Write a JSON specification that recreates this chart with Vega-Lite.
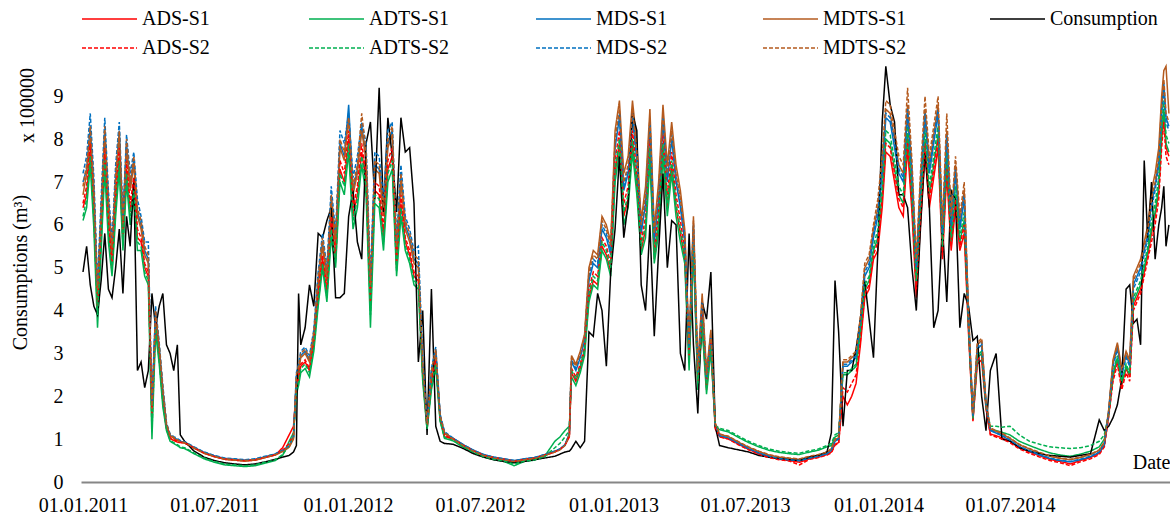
{
"$schema":"https://vega.github.io/schema/vega-lite/v6.json",
"width":1089,"height":420,
"autosize":{"type":"none"},
"padding":{"left":81,"top":62,"right":0,"bottom":33},
"background":"white",
"datasets":{
"series":[{"k":"a1","name":"ADS-S1"},{"k":"t1","name":"ADTS-S1"},{"k":"m1","name":"MDS-S1"},{"k":"d1","name":"MDTS-S1"},{"k":"c","name":"Consumption"},{"k":"a2","name":"ADS-S2"},{"k":"t2","name":"ADTS-S2"},{"k":"m2","name":"MDS-S2"},{"k":"d2","name":"MDTS-S2"}],
"consumption":[
{"date":"2011-01-01","a1":6.4,"t1":6.1,"m1":7.0,"d1":6.7,"c":4.9,"a2":6.5,"t2":6.2,"m2":7.2,"d2":6.9},
{"date":"2011-01-06","a1":6.7,"t1":6.4,"m1":7.3,"d1":7.2,"c":5.5,"a2":6.9,"t2":6.6,"m2":7.6,"d2":7.4},
{"date":"2011-01-11","a1":7.7,"t1":7.4,"m1":8.3,"d1":8.0,"c":4.6,"a2":7.9,"t2":7.6,"m2":8.6,"d2":8.3},
{"date":"2011-01-16","a1":6.2,"t1":5.9,"m1":6.8,"d1":6.7,"c":4.1,"a2":6.4,"t2":6.1,"m2":7.1,"d2":6.9},
{"date":"2011-01-21","a1":4.0,"t1":3.6,"m1":4.4,"d1":4.1,"c":3.9,"a2":4.1,"t2":3.9,"m2":4.6,"d2":4.5},
{"date":"2011-01-26","a1":5.7,"t1":5.4,"m1":6.3,"d1":6.2,"c":4.7,"a2":5.9,"t2":5.6,"m2":6.6,"d2":6.4},
{"date":"2011-01-31","a1":7.6,"t1":7.3,"m1":8.2,"d1":8.1,"c":5.8,"a2":7.8,"t2":7.5,"m2":8.5,"d2":8.3},
{"date":"2011-02-05","a1":5.9,"t1":5.6,"m1":6.5,"d1":6.4,"c":4.5,"a2":6.1,"t2":5.8,"m2":6.8,"d2":6.6},
{"date":"2011-02-10","a1":5.0,"t1":4.8,"m1":5.4,"d1":5.3,"c":4.3,"a2":5.1,"t2":4.9,"m2":5.6,"d2":5.5},
{"date":"2011-02-15","a1":6.5,"t1":6.2,"m1":7.1,"d1":7.0,"c":5.0,"a2":6.7,"t2":6.4,"m2":7.4,"d2":7.2},
{"date":"2011-02-20","a1":7.6,"t1":7.3,"m1":8.2,"d1":8.1,"c":5.9,"a2":7.8,"t2":7.5,"m2":8.4,"d2":8.2},
{"date":"2011-02-25","a1":5.6,"t1":5.4,"m1":6.0,"d1":5.9,"c":4.4,"a2":5.7,"t2":5.5,"m2":6.2,"d2":6.1},
{"date":"2011-03-02","a1":7.3,"t1":7.0,"m1":7.9,"d1":7.8,"c":6.2,"a2":7.5,"t2":7.2,"m2":8.1,"d2":8.0},
{"date":"2011-03-07","a1":6.3,"t1":6.0,"m1":6.9,"d1":6.8,"c":5.5,"a2":6.5,"t2":6.2,"m2":7.2,"d2":7.0},
{"date":"2011-03-12","a1":6.9,"t1":6.6,"m1":7.5,"d1":7.4,"c":7.1,"a2":7.1,"t2":6.8,"m2":7.7,"d2":7.6},
{"date":"2011-03-17","a1":5.7,"t1":5.4,"m1":6.3,"d1":6.2,"c":2.6,"a2":5.9,"t2":5.6,"m2":6.6,"d2":6.4},
{"date":"2011-03-22","a1":5.6,"t1":5.4,"m1":6.0,"d1":5.9,"c":2.8,"a2":5.7,"t2":5.5,"m2":6.2,"d2":6.1},
{"date":"2011-03-27","a1":5.0,"t1":4.8,"m1":5.4,"d1":5.3,"c":2.2,"a2":5.1,"t2":4.9,"m2":5.6,"d2":5.5},
{"date":"2011-04-01","a1":4.8,"t1":4.6,"m1":5.2,"d1":5.1,"c":2.6,"a2":4.9,"t2":4.7,"m2":5.6,"d2":5.3},
{"date":"2011-04-06","a1":1.55,"t1":1.0,"m1":1.7,"d1":1.65,"c":4.4,"a2":1.6,"t2":1.2,"m2":1.8,"d2":1.7},
{"date":"2011-04-11","a1":3.7,"t1":3.5,"m1":3.95,"d1":3.9,"c":3.6,"a2":3.75,"t2":3.65,"m2":4.1,"d2":4.0},
{"date":"2011-04-16","a1":2.9,"t1":2.75,"m1":3.15,"d1":3.1,"c":4.1,"a2":2.95,"t2":2.85,"m2":3.25,"d2":3.2},
{"date":"2011-04-21","a1":1.9,"t1":1.75,"m1":2.15,"d1":2.1,"c":4.4,"a2":1.95,"t2":1.85,"m2":2.25,"d2":2.2},
{"date":"2011-04-26","a1":1.26,"t1":1.2,"m1":1.34,"d1":1.33,"c":3.2,"a2":1.28,"t2":1.24,"m2":1.38,"d2":1.36},
{"date":"2011-05-01","a1":1.01,"t1":0.95,"m1":1.09,"d1":1.08,"c":3.0,"a2":1.03,"t2":0.97,"m2":1.12,"d2":1.1},
{"date":"2011-05-06","a1":0.97,"t1":0.9,"m1":1.04,"d1":1.02,"c":2.6,"a2":0.99,"t2":0.92,"m2":1.06,"d2":1.04},
{"date":"2011-05-11","a1":0.93,"t1":0.85,"m1":0.99,"d1":0.97,"c":3.2,"a2":0.95,"t2":0.87,"m2":1.01,"d2":0.99},
{"date":"2011-05-15","a1":0.92,"t1":0.8,"m1":0.95,"d1":0.93,"c":1.1,"a2":0.93,"t2":0.82,"m2":0.97,"d2":0.94},
{"date":"2011-05-21","a1":0.91,"t1":0.78,"m1":0.93,"d1":0.91,"c":0.95,"a2":0.92,"t2":0.8,"m2":0.94,"d2":0.92},
{"date":"2011-06-03","a1":0.79,"t1":0.66,"m1":0.81,"d1":0.79,"c":0.72,"a2":0.8,"t2":0.68,"m2":0.82,"d2":0.8},
{"date":"2011-06-17","a1":0.67,"t1":0.54,"m1":0.69,"d1":0.67,"c":0.58,"a2":0.68,"t2":0.56,"m2":0.7,"d2":0.68},
{"date":"2011-07-01","a1":0.59,"t1":0.46,"m1":0.61,"d1":0.59,"c":0.5,"a2":0.6,"t2":0.48,"m2":0.62,"d2":0.6},
{"date":"2011-07-15","a1":0.53,"t1":0.4,"m1":0.55,"d1":0.53,"c":0.45,"a2":0.54,"t2":0.42,"m2":0.56,"d2":0.54},
{"date":"2011-07-29","a1":0.51,"t1":0.38,"m1":0.53,"d1":0.51,"c":0.42,"a2":0.52,"t2":0.4,"m2":0.54,"d2":0.52},
{"date":"2011-08-12","a1":0.49,"t1":0.36,"m1":0.51,"d1":0.49,"c":0.4,"a2":0.5,"t2":0.38,"m2":0.52,"d2":0.5},
{"date":"2011-08-26","a1":0.51,"t1":0.38,"m1":0.53,"d1":0.51,"c":0.42,"a2":0.52,"t2":0.4,"m2":0.54,"d2":0.52},
{"date":"2011-09-09","a1":0.57,"t1":0.44,"m1":0.59,"d1":0.57,"c":0.47,"a2":0.58,"t2":0.46,"m2":0.6,"d2":0.58},
{"date":"2011-09-23","a1":0.63,"t1":0.5,"m1":0.65,"d1":0.63,"c":0.53,"a2":0.64,"t2":0.52,"m2":0.66,"d2":0.64},
{"date":"2011-10-03","a1":0.8,"t1":0.62,"m1":0.73,"d1":0.71,"c":0.58,"a2":0.74,"t2":0.64,"m2":0.74,"d2":0.72},
{"date":"2011-10-12","a1":1.1,"t1":0.95,"m1":0.83,"d1":0.81,"c":0.62,"a2":0.9,"t2":0.85,"m2":0.84,"d2":0.82},
{"date":"2011-10-18","a1":1.3,"t1":1.15,"m1":1.05,"d1":1.0,"c":0.7,"a2":1.1,"t2":1.05,"m2":1.06,"d2":1.03},
{"date":"2011-10-22","a1":2.2,"t1":2.05,"m1":2.45,"d1":2.4,"c":0.85,"a2":2.25,"t2":2.15,"m2":2.55,"d2":2.5},
{"date":"2011-10-25","a1":2.4,"t1":2.25,"m1":2.65,"d1":2.6,"c":4.4,"a2":2.45,"t2":2.35,"m2":2.75,"d2":2.7},
{"date":"2011-10-28","a1":2.7,"t1":2.55,"m1":2.95,"d1":2.9,"c":3.2,"a2":2.75,"t2":2.65,"m2":3.05,"d2":3.0},
{"date":"2011-11-03","a1":2.8,"t1":2.65,"m1":3.05,"d1":3.0,"c":3.6,"a2":2.85,"t2":2.75,"m2":3.15,"d2":3.1},
{"date":"2011-11-09","a1":2.6,"t1":2.45,"m1":2.85,"d1":2.8,"c":4.6,"a2":2.65,"t2":2.55,"m2":2.95,"d2":2.9},
{"date":"2011-11-15","a1":3.2,"t1":3.05,"m1":3.45,"d1":3.4,"c":4.1,"a2":3.25,"t2":3.15,"m2":3.55,"d2":3.5},
{"date":"2011-11-21","a1":4.3,"t1":4.1,"m1":4.7,"d1":4.6,"c":5.8,"a2":4.4,"t2":4.2,"m2":4.9,"d2":4.8},
{"date":"2011-11-27","a1":5.2,"t1":5.0,"m1":5.6,"d1":5.5,"c":5.7,"a2":5.3,"t2":5.1,"m2":5.8,"d2":5.7},
{"date":"2011-12-03","a1":4.4,"t1":4.2,"m1":4.8,"d1":4.7,"c":6.1,"a2":4.5,"t2":4.3,"m2":5.0,"d2":4.9},
{"date":"2011-12-09","a1":6.0,"t1":5.7,"m1":6.6,"d1":6.5,"c":6.4,"a2":6.2,"t2":5.9,"m2":6.9,"d2":6.7},
{"date":"2011-12-15","a1":5.2,"t1":5.0,"m1":5.6,"d1":5.5,"c":4.3,"a2":5.3,"t2":5.1,"m2":5.8,"d2":5.7},
{"date":"2011-12-21","a1":7.3,"t1":7.0,"m1":7.9,"d1":7.8,"c":4.3,"a2":7.5,"t2":7.2,"m2":8.2,"d2":8.0},
{"date":"2011-12-27","a1":7.0,"t1":6.7,"m1":7.6,"d1":7.5,"c":4.4,"a2":7.2,"t2":6.9,"m2":7.9,"d2":7.7},
{"date":"2012-01-02","a1":8.0,"t1":7.7,"m1":8.8,"d1":8.5,"c":6.2,"a2":8.2,"t2":7.9,"m2":8.6,"d2":8.5},
{"date":"2012-01-08","a1":6.2,"t1":5.9,"m1":6.8,"d1":6.7,"c":6.8,"a2":6.4,"t2":6.1,"m2":7.1,"d2":6.9},
{"date":"2012-01-14","a1":6.7,"t1":6.4,"m1":7.3,"d1":7.2,"c":5.6,"a2":6.9,"t2":6.6,"m2":7.6,"d2":7.4},
{"date":"2012-01-20","a1":7.7,"t1":7.4,"m1":8.3,"d1":8.2,"c":5.2,"a2":7.9,"t2":7.6,"m2":8.4,"d2":8.6},
{"date":"2012-01-26","a1":7.0,"t1":6.7,"m1":7.6,"d1":7.5,"c":7.9,"a2":7.2,"t2":6.9,"m2":7.9,"d2":7.7},
{"date":"2012-02-01","a1":4.1,"t1":3.6,"m1":4.5,"d1":4.4,"c":8.4,"a2":4.2,"t2":3.9,"m2":4.7,"d2":4.6},
{"date":"2012-02-07","a1":6.8,"t1":6.5,"m1":7.4,"d1":7.3,"c":6.6,"a2":7.0,"t2":6.7,"m2":7.7,"d2":7.5},
{"date":"2012-02-13","a1":6.7,"t1":6.4,"m1":7.3,"d1":7.2,"c":9.2,"a2":6.9,"t2":6.6,"m2":7.6,"d2":7.4},
{"date":"2012-02-19","a1":5.7,"t1":5.4,"m1":6.3,"d1":6.2,"c":6.3,"a2":5.9,"t2":5.6,"m2":6.6,"d2":6.4},
{"date":"2012-02-25","a1":7.3,"t1":7.0,"m1":7.9,"d1":7.8,"c":8.5,"a2":7.5,"t2":7.2,"m2":8.2,"d2":8.0},
{"date":"2012-03-02","a1":7.6,"t1":7.3,"m1":8.2,"d1":8.1,"c":7.6,"a2":7.8,"t2":7.5,"m2":8.4,"d2":8.3},
{"date":"2012-03-08","a1":5.0,"t1":4.8,"m1":5.4,"d1":5.3,"c":6.3,"a2":5.1,"t2":4.9,"m2":5.6,"d2":5.5},
{"date":"2012-03-14","a1":6.5,"t1":6.2,"m1":7.1,"d1":7.0,"c":8.5,"a2":6.7,"t2":6.4,"m2":7.4,"d2":7.2},
{"date":"2012-03-20","a1":5.6,"t1":5.4,"m1":6.0,"d1":5.9,"c":7.7,"a2":5.7,"t2":5.5,"m2":6.2,"d2":6.1},
{"date":"2012-03-26","a1":5.3,"t1":5.1,"m1":5.7,"d1":5.6,"c":7.8,"a2":5.4,"t2":5.2,"m2":5.9,"d2":5.8},
{"date":"2012-04-01","a1":4.8,"t1":4.6,"m1":5.2,"d1":5.1,"c":6.5,"a2":4.9,"t2":4.7,"m2":5.4,"d2":5.3},
{"date":"2012-04-07","a1":4.7,"t1":4.5,"m1":5.1,"d1":5.0,"c":2.8,"a2":4.8,"t2":4.6,"m2":5.5,"d2":5.2},
{"date":"2012-04-13","a1":2.5,"t1":2.35,"m1":2.75,"d1":2.7,"c":4.0,"a2":2.55,"t2":2.45,"m2":2.85,"d2":2.8},
{"date":"2012-04-19","a1":1.26,"t1":1.22,"m1":1.34,"d1":1.33,"c":1.1,"a2":1.28,"t2":1.24,"m2":1.38,"d2":1.36},
{"date":"2012-04-25","a1":2.3,"t1":2.15,"m1":2.55,"d1":2.5,"c":4.5,"a2":2.35,"t2":2.25,"m2":2.65,"d2":2.6},
{"date":"2012-05-01","a1":2.8,"t1":2.65,"m1":3.05,"d1":3.0,"c":1.3,"a2":2.85,"t2":2.75,"m2":3.15,"d2":3.1},
{"date":"2012-05-07","a1":1.46,"t1":1.42,"m1":1.54,"d1":1.53,"c":0.95,"a2":1.48,"t2":1.44,"m2":1.58,"d2":1.56},
{"date":"2012-05-13","a1":1.06,"t1":1.02,"m1":1.14,"d1":1.13,"c":0.9,"a2":1.08,"t2":1.04,"m2":1.18,"d2":1.16},
{"date":"2012-05-25","a1":1.0,"t1":0.96,"m1":1.02,"d1":1.01,"c":0.88,"a2":1.01,"t2":0.97,"m2":1.02,"d2":1.0},
{"date":"2012-06-08","a1":0.85,"t1":0.81,"m1":0.87,"d1":0.86,"c":0.78,"a2":0.86,"t2":0.82,"m2":0.87,"d2":0.85},
{"date":"2012-06-22","a1":0.72,"t1":0.68,"m1":0.74,"d1":0.73,"c":0.66,"a2":0.73,"t2":0.69,"m2":0.74,"d2":0.72},
{"date":"2012-07-06","a1":0.62,"t1":0.58,"m1":0.64,"d1":0.63,"c":0.58,"a2":0.63,"t2":0.59,"m2":0.64,"d2":0.62},
{"date":"2012-07-20","a1":0.56,"t1":0.52,"m1":0.58,"d1":0.57,"c":0.52,"a2":0.57,"t2":0.53,"m2":0.58,"d2":0.56},
{"date":"2012-08-03","a1":0.52,"t1":0.48,"m1":0.54,"d1":0.53,"c":0.48,"a2":0.53,"t2":0.49,"m2":0.54,"d2":0.52},
{"date":"2012-08-17","a1":0.48,"t1":0.38,"m1":0.5,"d1":0.49,"c":0.45,"a2":0.49,"t2":0.42,"m2":0.5,"d2":0.48},
{"date":"2012-08-31","a1":0.52,"t1":0.48,"m1":0.54,"d1":0.53,"c":0.48,"a2":0.53,"t2":0.49,"m2":0.54,"d2":0.52},
{"date":"2012-09-14","a1":0.55,"t1":0.51,"m1":0.57,"d1":0.56,"c":0.52,"a2":0.56,"t2":0.52,"m2":0.57,"d2":0.55},
{"date":"2012-09-28","a1":0.62,"t1":0.6,"m1":0.64,"d1":0.63,"c":0.56,"a2":0.63,"t2":0.59,"m2":0.64,"d2":0.62},
{"date":"2012-10-12","a1":0.7,"t1":0.95,"m1":0.72,"d1":0.71,"c":0.6,"a2":0.71,"t2":0.8,"m2":0.72,"d2":0.7},
{"date":"2012-10-19","a1":0.76,"t1":1.05,"m1":0.77,"d1":0.76,"c":0.65,"a2":0.76,"t2":0.9,"m2":0.77,"d2":0.75},
{"date":"2012-10-26","a1":0.86,"t1":1.2,"m1":0.87,"d1":0.86,"c":0.7,"a2":0.86,"t2":1.05,"m2":0.87,"d2":0.85},
{"date":"2012-11-01","a1":1.05,"t1":1.3,"m1":1.12,"d1":1.1,"c":0.72,"a2":1.08,"t2":1.2,"m2":1.13,"d2":1.1},
{"date":"2012-11-04","a1":2.55,"t1":2.45,"m1":2.8,"d1":2.95,"c":0.78,"a2":2.65,"t2":2.6,"m2":2.85,"d2":2.9},
{"date":"2012-11-10","a1":2.35,"t1":2.25,"m1":2.6,"d1":2.75,"c":0.95,"a2":2.45,"t2":2.4,"m2":2.65,"d2":2.7},
{"date":"2012-11-16","a1":2.65,"t1":2.55,"m1":2.9,"d1":3.05,"c":0.8,"a2":2.75,"t2":2.7,"m2":2.95,"d2":3.0},
{"date":"2012-11-22","a1":3.05,"t1":2.95,"m1":3.3,"d1":3.45,"c":0.95,"a2":3.15,"t2":3.1,"m2":3.35,"d2":3.4},
{"date":"2012-11-28","a1":4.3,"t1":4.2,"m1":4.7,"d1":5.0,"c":3.5,"a2":4.5,"t2":4.4,"m2":4.8,"d2":4.9},
{"date":"2012-12-04","a1":4.7,"t1":4.6,"m1":5.1,"d1":5.4,"c":3.4,"a2":4.9,"t2":4.8,"m2":5.2,"d2":5.3},
{"date":"2012-12-10","a1":4.6,"t1":4.5,"m1":5.0,"d1":5.3,"c":4.4,"a2":4.8,"t2":4.7,"m2":5.1,"d2":5.2},
{"date":"2012-12-16","a1":5.5,"t1":5.4,"m1":5.9,"d1":6.2,"c":4.0,"a2":5.7,"t2":5.6,"m2":6.0,"d2":6.1},
{"date":"2012-12-22","a1":5.3,"t1":5.2,"m1":5.7,"d1":6.0,"c":2.7,"a2":5.5,"t2":5.4,"m2":5.8,"d2":5.9},
{"date":"2012-12-28","a1":4.9,"t1":4.8,"m1":5.3,"d1":5.6,"c":4.9,"a2":5.1,"t2":5.0,"m2":5.4,"d2":5.5},
{"date":"2013-01-03","a1":7.2,"t1":7.0,"m1":7.8,"d1":8.2,"c":5.9,"a2":7.5,"t2":7.3,"m2":7.9,"d2":8.0},
{"date":"2013-01-09","a1":7.9,"t1":7.7,"m1":8.5,"d1":8.9,"c":7.6,"a2":8.2,"t2":8.0,"m2":8.6,"d2":8.7},
{"date":"2013-01-15","a1":6.2,"t1":6.0,"m1":6.8,"d1":7.2,"c":5.7,"a2":6.5,"t2":6.3,"m2":6.9,"d2":7.0},
{"date":"2013-01-21","a1":6.6,"t1":6.4,"m1":7.2,"d1":7.6,"c":6.5,"a2":6.9,"t2":6.7,"m2":7.3,"d2":7.4},
{"date":"2013-01-27","a1":7.9,"t1":7.7,"m1":8.5,"d1":8.9,"c":8.6,"a2":8.2,"t2":8.0,"m2":8.6,"d2":8.7},
{"date":"2013-02-02","a1":6.9,"t1":6.7,"m1":7.5,"d1":7.9,"c":8.2,"a2":7.2,"t2":7.0,"m2":7.6,"d2":7.7},
{"date":"2013-02-08","a1":5.4,"t1":5.3,"m1":5.8,"d1":6.1,"c":4.6,"a2":5.6,"t2":5.5,"m2":5.9,"d2":6.0},
{"date":"2013-02-14","a1":5.9,"t1":5.7,"m1":6.5,"d1":6.9,"c":4.0,"a2":6.2,"t2":6.0,"m2":6.6,"d2":6.7},
{"date":"2013-02-20","a1":7.7,"t1":7.5,"m1":8.3,"d1":8.7,"c":6.0,"a2":8.0,"t2":7.8,"m2":8.4,"d2":8.5},
{"date":"2013-02-26","a1":5.2,"t1":5.1,"m1":5.6,"d1":5.9,"c":3.4,"a2":5.4,"t2":5.3,"m2":5.7,"d2":5.8},
{"date":"2013-03-04","a1":6.0,"t1":5.8,"m1":6.6,"d1":7.0,"c":5.4,"a2":6.3,"t2":6.1,"m2":6.7,"d2":6.8},
{"date":"2013-03-10","a1":7.8,"t1":7.6,"m1":8.4,"d1":8.8,"c":7.2,"a2":8.1,"t2":7.9,"m2":8.5,"d2":8.6},
{"date":"2013-03-16","a1":6.4,"t1":6.2,"m1":7.0,"d1":7.4,"c":5.0,"a2":6.7,"t2":6.5,"m2":7.1,"d2":7.2},
{"date":"2013-03-22","a1":7.4,"t1":7.2,"m1":8.0,"d1":8.4,"c":6.1,"a2":7.7,"t2":7.5,"m2":8.1,"d2":8.2},
{"date":"2013-03-28","a1":6.4,"t1":6.2,"m1":7.0,"d1":7.4,"c":6.0,"a2":6.7,"t2":6.5,"m2":7.1,"d2":7.2},
{"date":"2013-04-03","a1":5.8,"t1":5.6,"m1":6.4,"d1":6.8,"c":3.0,"a2":6.1,"t2":5.9,"m2":6.5,"d2":6.6},
{"date":"2013-04-09","a1":5.2,"t1":5.1,"m1":5.6,"d1":5.9,"c":2.6,"a2":5.4,"t2":5.3,"m2":5.7,"d2":5.8},
{"date":"2013-04-15","a1":2.85,"t1":2.6,"m1":3.1,"d1":3.25,"c":5.8,"a2":2.95,"t2":2.9,"m2":3.15,"d2":3.2},
{"date":"2013-04-21","a1":5.5,"t1":5.4,"m1":5.9,"d1":6.2,"c":3.2,"a2":5.7,"t2":5.6,"m2":6.0,"d2":6.1},
{"date":"2013-04-27","a1":2.25,"t1":2.15,"m1":2.5,"d1":2.65,"c":1.6,"a2":2.35,"t2":2.3,"m2":2.55,"d2":2.6},
{"date":"2013-05-03","a1":3.7,"t1":3.6,"m1":4.1,"d1":4.4,"c":4.2,"a2":3.9,"t2":3.8,"m2":4.2,"d2":4.3},
{"date":"2013-05-09","a1":2.15,"t1":2.05,"m1":2.4,"d1":2.55,"c":3.8,"a2":2.25,"t2":2.2,"m2":2.45,"d2":2.5},
{"date":"2013-05-15","a1":3.15,"t1":3.05,"m1":3.4,"d1":3.55,"c":4.9,"a2":3.25,"t2":3.2,"m2":3.45,"d2":3.5},
{"date":"2013-05-21","a1":1.24,"t1":1.3,"m1":1.33,"d1":1.38,"c":1.3,"a2":1.28,"t2":1.32,"m2":1.34,"d2":1.36},
{"date":"2013-05-27","a1":1.06,"t1":1.22,"m1":1.08,"d1":1.11,"c":0.85,"a2":1.05,"t2":1.25,"m2":1.08,"d2":1.12},
{"date":"2013-06-08","a1":1.01,"t1":1.17,"m1":1.03,"d1":1.06,"c":0.8,"a2":1.0,"t2":1.2,"m2":1.03,"d2":1.07},
{"date":"2013-06-22","a1":0.88,"t1":1.04,"m1":0.9,"d1":0.93,"c":0.75,"a2":0.87,"t2":1.07,"m2":0.9,"d2":0.94},
{"date":"2013-07-06","a1":0.76,"t1":0.92,"m1":0.78,"d1":0.81,"c":0.7,"a2":0.75,"t2":0.95,"m2":0.78,"d2":0.82},
{"date":"2013-07-20","a1":0.66,"t1":0.82,"m1":0.68,"d1":0.71,"c":0.62,"a2":0.65,"t2":0.85,"m2":0.68,"d2":0.72},
{"date":"2013-08-03","a1":0.58,"t1":0.74,"m1":0.6,"d1":0.63,"c":0.58,"a2":0.57,"t2":0.77,"m2":0.6,"d2":0.64},
{"date":"2013-08-17","a1":0.53,"t1":0.69,"m1":0.55,"d1":0.58,"c":0.55,"a2":0.52,"t2":0.72,"m2":0.55,"d2":0.59},
{"date":"2013-08-31","a1":0.5,"t1":0.66,"m1":0.52,"d1":0.55,"c":0.52,"a2":0.49,"t2":0.69,"m2":0.52,"d2":0.56},
{"date":"2013-09-14","a1":0.46,"t1":0.64,"m1":0.5,"d1":0.53,"c":0.5,"a2":0.4,"t2":0.67,"m2":0.5,"d2":0.54},
{"date":"2013-09-28","a1":0.54,"t1":0.7,"m1":0.56,"d1":0.59,"c":0.58,"a2":0.53,"t2":0.73,"m2":0.56,"d2":0.6},
{"date":"2013-10-10","a1":0.58,"t1":0.74,"m1":0.6,"d1":0.63,"c":0.62,"a2":0.57,"t2":0.77,"m2":0.6,"d2":0.64},
{"date":"2013-10-22","a1":0.64,"t1":0.82,"m1":0.66,"d1":0.69,"c":0.7,"a2":0.63,"t2":0.85,"m2":0.66,"d2":0.7},
{"date":"2013-10-28","a1":0.7,"t1":0.85,"m1":0.74,"d1":0.77,"c":1.15,"a2":0.68,"t2":0.9,"m2":0.75,"d2":0.78},
{"date":"2013-11-02","a1":0.88,"t1":1.05,"m1":0.95,"d1":0.98,"c":4.7,"a2":0.86,"t2":1.1,"m2":0.96,"d2":1.0},
{"date":"2013-11-07","a1":0.92,"t1":1.1,"m1":1.0,"d1":1.03,"c":3.5,"a2":0.9,"t2":1.15,"m2":1.01,"d2":1.06},
{"date":"2013-11-13","a1":2.0,"t1":2.5,"m1":2.7,"d1":2.8,"c":1.3,"a2":2.2,"t2":2.55,"m2":2.75,"d2":2.85},
{"date":"2013-11-19","a1":1.8,"t1":2.5,"m1":2.7,"d1":2.8,"c":2.6,"a2":2.1,"t2":2.55,"m2":2.75,"d2":2.85},
{"date":"2013-11-25","a1":2.0,"t1":2.6,"m1":2.8,"d1":2.9,"c":2.6,"a2":2.3,"t2":2.65,"m2":2.85,"d2":2.95},
{"date":"2013-12-01","a1":2.3,"t1":2.7,"m1":2.9,"d1":3.0,"c":3.1,"a2":2.5,"t2":2.75,"m2":2.95,"d2":3.05},
{"date":"2013-12-07","a1":3.2,"t1":3.5,"m1":3.7,"d1":3.8,"c":3.8,"a2":3.3,"t2":3.55,"m2":3.75,"d2":3.85},
{"date":"2013-12-13","a1":4.3,"t1":4.5,"m1":4.8,"d1":5.0,"c":4.7,"a2":4.4,"t2":4.6,"m2":4.9,"d2":5.1},
{"date":"2013-12-19","a1":4.5,"t1":4.7,"m1":5.0,"d1":5.2,"c":3.8,"a2":4.6,"t2":4.8,"m2":5.1,"d2":5.3},
{"date":"2013-12-25","a1":5.2,"t1":5.4,"m1":5.7,"d1":5.9,"c":2.9,"a2":5.3,"t2":5.5,"m2":5.8,"d2":6.0},
{"date":"2013-12-31","a1":5.4,"t1":5.7,"m1":6.2,"d1":6.4,"c":5.4,"a2":5.6,"t2":5.9,"m2":6.3,"d2":6.6},
{"date":"2014-01-06","a1":6.4,"t1":6.7,"m1":7.2,"d1":7.4,"c":8.4,"a2":6.6,"t2":6.9,"m2":7.3,"d2":7.6},
{"date":"2014-01-11","a1":7.7,"t1":8.0,"m1":8.5,"d1":8.7,"c":9.7,"a2":7.9,"t2":8.2,"m2":8.6,"d2":8.9},
{"date":"2014-01-17","a1":7.6,"t1":7.9,"m1":8.4,"d1":8.6,"c":8.8,"a2":7.8,"t2":8.1,"m2":8.5,"d2":8.8},
{"date":"2014-01-23","a1":7.0,"t1":7.3,"m1":7.8,"d1":8.0,"c":8.4,"a2":7.2,"t2":7.5,"m2":7.9,"d2":8.2},
{"date":"2014-01-29","a1":6.4,"t1":6.7,"m1":7.2,"d1":7.4,"c":6.7,"a2":6.6,"t2":6.9,"m2":7.3,"d2":7.6},
{"date":"2014-02-04","a1":6.2,"t1":6.5,"m1":7.0,"d1":7.2,"c":6.7,"a2":6.4,"t2":6.7,"m2":7.1,"d2":7.4},
{"date":"2014-02-10","a1":7.8,"t1":8.1,"m1":8.6,"d1":8.8,"c":6.4,"a2":8.0,"t2":8.3,"m2":8.7,"d2":9.2},
{"date":"2014-02-16","a1":6.3,"t1":6.6,"m1":7.1,"d1":7.3,"c":5.0,"a2":6.5,"t2":6.8,"m2":7.2,"d2":7.5},
{"date":"2014-02-22","a1":4.3,"t1":4.6,"m1":4.9,"d1":5.1,"c":4.0,"a2":4.5,"t2":4.7,"m2":5.0,"d2":5.2},
{"date":"2014-02-28","a1":6.1,"t1":6.4,"m1":6.9,"d1":7.1,"c":6.0,"a2":6.3,"t2":6.6,"m2":7.0,"d2":7.3},
{"date":"2014-03-06","a1":7.7,"t1":8.0,"m1":8.5,"d1":8.7,"c":7.7,"a2":7.9,"t2":8.2,"m2":8.6,"d2":9.0},
{"date":"2014-03-12","a1":6.4,"t1":6.7,"m1":7.2,"d1":7.4,"c":6.4,"a2":6.6,"t2":6.9,"m2":7.3,"d2":7.6},
{"date":"2014-03-18","a1":7.1,"t1":7.4,"m1":7.9,"d1":8.1,"c":3.6,"a2":7.3,"t2":7.6,"m2":8.0,"d2":8.3},
{"date":"2014-03-24","a1":7.8,"t1":8.1,"m1":8.6,"d1":8.8,"c":4.0,"a2":8.0,"t2":8.3,"m2":8.7,"d2":9.0},
{"date":"2014-03-30","a1":5.2,"t1":5.4,"m1":5.7,"d1":5.9,"c":6.0,"a2":5.3,"t2":5.5,"m2":5.8,"d2":6.0},
{"date":"2014-04-05","a1":7.2,"t1":7.5,"m1":8.0,"d1":8.2,"c":4.2,"a2":7.4,"t2":7.7,"m2":8.1,"d2":8.6},
{"date":"2014-04-11","a1":5.4,"t1":5.6,"m1":5.9,"d1":6.1,"c":6.8,"a2":5.5,"t2":5.7,"m2":6.0,"d2":6.2},
{"date":"2014-04-17","a1":6.4,"t1":6.7,"m1":7.2,"d1":7.4,"c":6.6,"a2":6.6,"t2":6.9,"m2":7.3,"d2":7.6},
{"date":"2014-04-23","a1":5.4,"t1":5.6,"m1":5.9,"d1":6.1,"c":3.6,"a2":5.5,"t2":5.7,"m2":6.0,"d2":6.2},
{"date":"2014-04-29","a1":5.8,"t1":6.1,"m1":6.6,"d1":6.8,"c":4.4,"a2":6.0,"t2":6.3,"m2":6.7,"d2":7.0},
{"date":"2014-05-05","a1":3.45,"t1":3.6,"m1":3.8,"d1":3.9,"c":4.1,"a2":3.55,"t2":3.65,"m2":3.85,"d2":3.95},
{"date":"2014-05-11","a1":1.42,"t1":1.46,"m1":1.53,"d1":1.56,"c":3.3,"a2":1.44,"t2":1.48,"m2":1.54,"d2":1.58},
{"date":"2014-05-17","a1":2.75,"t1":2.9,"m1":3.1,"d1":3.2,"c":3.4,"a2":2.85,"t2":2.95,"m2":3.15,"d2":3.25},
{"date":"2014-05-23","a1":2.85,"t1":3.0,"m1":3.2,"d1":3.3,"c":2.0,"a2":2.95,"t2":3.05,"m2":3.25,"d2":3.35},
{"date":"2014-05-29","a1":1.72,"t1":1.76,"m1":1.83,"d1":1.86,"c":1.2,"a2":1.74,"t2":1.78,"m2":1.84,"d2":1.88},
{"date":"2014-06-04","a1":1.12,"t1":1.22,"m1":1.2,"d1":1.24,"c":2.6,"a2":1.1,"t2":1.3,"m2":1.21,"d2":1.26},
{"date":"2014-06-12","a1":1.08,"t1":1.2,"m1":1.14,"d1":1.18,"c":3.0,"a2":1.05,"t2":1.3,"m2":1.15,"d2":1.2},
{"date":"2014-06-20","a1":1.03,"t1":1.16,"m1":1.08,"d1":1.12,"c":1.0,"a2":1.0,"t2":1.28,"m2":1.09,"d2":1.14},
{"date":"2014-07-01","a1":0.95,"t1":1.1,"m1":0.97,"d1":1.02,"c":0.95,"a2":0.92,"t2":1.3,"m2":0.98,"d2":1.03},
{"date":"2014-07-14","a1":0.8,"t1":0.95,"m1":0.82,"d1":0.87,"c":0.8,"a2":0.77,"t2":1.1,"m2":0.83,"d2":0.88},
{"date":"2014-07-28","a1":0.7,"t1":0.85,"m1":0.72,"d1":0.77,"c":0.72,"a2":0.67,"t2":0.95,"m2":0.73,"d2":0.78},
{"date":"2014-08-11","a1":0.61,"t1":0.76,"m1":0.63,"d1":0.68,"c":0.66,"a2":0.58,"t2":0.88,"m2":0.64,"d2":0.69},
{"date":"2014-08-25","a1":0.53,"t1":0.68,"m1":0.55,"d1":0.6,"c":0.62,"a2":0.5,"t2":0.82,"m2":0.56,"d2":0.61},
{"date":"2014-09-08","a1":0.48,"t1":0.63,"m1":0.5,"d1":0.55,"c":0.6,"a2":0.45,"t2":0.8,"m2":0.51,"d2":0.56},
{"date":"2014-09-22","a1":0.42,"t1":0.6,"m1":0.47,"d1":0.52,"c":0.58,"a2":0.38,"t2":0.78,"m2":0.48,"d2":0.53},
{"date":"2014-10-06","a1":0.5,"t1":0.65,"m1":0.52,"d1":0.57,"c":0.62,"a2":0.47,"t2":0.8,"m2":0.53,"d2":0.58},
{"date":"2014-10-20","a1":0.57,"t1":0.72,"m1":0.59,"d1":0.64,"c":0.66,"a2":0.54,"t2":0.85,"m2":0.6,"d2":0.65},
{"date":"2014-11-01","a1":0.67,"t1":0.82,"m1":0.69,"d1":0.74,"c":1.45,"a2":0.64,"t2":0.95,"m2":0.7,"d2":0.75},
{"date":"2014-11-08","a1":0.85,"t1":1.0,"m1":0.87,"d1":0.92,"c":1.2,"a2":0.82,"t2":1.1,"m2":0.88,"d2":0.93},
{"date":"2014-11-14","a1":1.54,"t1":1.56,"m1":1.64,"d1":1.68,"c":1.3,"a2":1.52,"t2":1.58,"m2":1.63,"d2":1.66},
{"date":"2014-11-20","a1":2.45,"t1":2.5,"m1":2.75,"d1":2.85,"c":1.5,"a2":2.35,"t2":2.55,"m2":2.7,"d2":2.8},
{"date":"2014-11-26","a1":2.85,"t1":2.9,"m1":3.15,"d1":3.25,"c":1.8,"a2":2.75,"t2":2.95,"m2":3.1,"d2":3.2},
{"date":"2014-12-02","a1":2.25,"t1":2.3,"m1":2.55,"d1":2.65,"c":2.4,"a2":2.15,"t2":2.35,"m2":2.5,"d2":2.6},
{"date":"2014-12-08","a1":2.65,"t1":2.7,"m1":2.95,"d1":3.05,"c":4.5,"a2":2.55,"t2":2.75,"m2":2.9,"d2":3.0},
{"date":"2014-12-13","a1":2.45,"t1":2.5,"m1":2.75,"d1":2.85,"c":4.6,"a2":2.35,"t2":2.55,"m2":2.7,"d2":2.8},
{"date":"2014-12-18","a1":4.1,"t1":4.2,"m1":4.6,"d1":4.8,"c":3.7,"a2":4.0,"t2":4.3,"m2":4.5,"d2":4.7},
{"date":"2014-12-23","a1":4.3,"t1":4.4,"m1":4.8,"d1":5.0,"c":3.8,"a2":4.2,"t2":4.5,"m2":4.7,"d2":4.9},
{"date":"2014-12-28","a1":4.5,"t1":4.6,"m1":5.0,"d1":5.2,"c":3.2,"a2":4.4,"t2":4.7,"m2":4.9,"d2":5.1},
{"date":"2015-01-02","a1":4.9,"t1":5.0,"m1":5.4,"d1":5.6,"c":7.5,"a2":4.8,"t2":5.1,"m2":5.3,"d2":5.5},
{"date":"2015-01-07","a1":5.3,"t1":5.4,"m1":5.8,"d1":6.0,"c":5.6,"a2":5.2,"t2":5.5,"m2":5.7,"d2":5.9},
{"date":"2015-01-12","a1":5.8,"t1":5.9,"m1":6.5,"d1":6.8,"c":7.0,"a2":5.6,"t2":6.1,"m2":6.4,"d2":6.6},
{"date":"2015-01-17","a1":6.2,"t1":6.3,"m1":6.9,"d1":7.2,"c":5.2,"a2":6.0,"t2":6.5,"m2":6.8,"d2":7.0},
{"date":"2015-01-22","a1":6.8,"t1":6.9,"m1":7.5,"d1":7.8,"c":6.0,"a2":6.6,"t2":7.1,"m2":7.4,"d2":7.6},
{"date":"2015-01-26","a1":8.0,"t1":8.1,"m1":8.7,"d1":9.0,"c":6.4,"a2":7.8,"t2":8.3,"m2":8.6,"d2":8.8},
{"date":"2015-01-29","a1":8.6,"t1":8.7,"m1":9.3,"d1":9.6,"c":6.9,"a2":8.4,"t2":8.9,"m2":9.2,"d2":9.4},
{"date":"2015-02-01","a1":7.8,"t1":7.9,"m1":8.5,"d1":9.7,"c":5.5,"a2":7.6,"t2":8.1,"m2":8.4,"d2":8.6},
{"date":"2015-02-05","a1":7.6,"t1":7.7,"m1":8.3,"d1":8.6,"c":6.0,"a2":7.4,"t2":7.9,"m2":8.2,"d2":8.4}
]},
"data":{"name":"consumption"},
"transform":[
{"fold":["a1","t1","m1","d1","c","a2","t2","m2","d2"],"as":["k","v"]},
{"lookup":"k","from":{"data":{"name":"series"},"key":"k","fields":["name"]}}
],
"title":{"text":"x 100000","orient":"left","anchor":"end","frame":"group","offset":-28,"dx":-6,"font":"Liberation Serif","fontSize":20,"fontWeight":"normal","color":"black"},
"mark":{"type":"line","strokeWidth":1.5,"clip":true},
"encoding":{
"x":{"field":"date","type":"temporal",
 "scale":{"type":"utc","domain":[{"year":2010,"month":12,"date":29,"hours":6,"utc":true},{"year":2015,"month":2,"date":6,"hours":12,"utc":true}]},
 "axis":{"values":[{"year":2011,"month":1,"date":1,"utc":true},{"year":2011,"month":7,"date":1,"utc":true},{"year":2012,"month":1,"date":1,"utc":true},{"year":2012,"month":7,"date":1,"utc":true},{"year":2013,"month":1,"date":1,"utc":true},{"year":2013,"month":7,"date":1,"utc":true},{"year":2014,"month":1,"date":1,"utc":true},{"year":2014,"month":7,"date":1,"utc":true}],
 "format":"%d.%m.%Y","labelFont":"Liberation Serif","labelFontSize":20,"labelColor":"black","labelPadding":13,"labelFlush":false,"labelOverlap":false,
 "ticks":false,"tickSize":0,"grid":false,"domainColor":"#868686","domainWidth":2,
 "title":"Date","titleFont":"Liberation Serif","titleFontSize":20,"titleFontWeight":"normal","titleColor":"black","titleAlign":"right","titleBaseline":"alphabetic","titleX":1089,"titleY":-14}},
"y":{"field":"v","type":"quantitative",
 "scale":{"domain":[0,9.8],"nice":false},
 "axis":{"values":[0,1,2,3,4,5,6,7,8,9],"labelFont":"Liberation Serif","labelFontSize":20,"labelColor":"black","labelPadding":18,
 "ticks":false,"tickSize":0,"domain":false,"grid":false,
 "title":"Consumptions (m³)","titleFont":"Liberation Serif","titleFontSize":20,"titleFontWeight":"normal","titleColor":"black","titleAngle":-90,"titleX":-61,"titleY":210,"titleAlign":"center","titleBaseline":"middle"}},
"color":{"field":"name","type":"nominal",
 "scale":{"domain":["ADS-S1","ADTS-S1","MDS-S1","MDTS-S1","Consumption","ADS-S2","ADTS-S2","MDS-S2","MDTS-S2"],"range":["#FF0000","#00B050","#0070C0","#B45A1E","#000000","#FF0000","#00B050","#0070C0","#B45A1E"]},
 "legend":{"title":null,"orient":"top","direction":"horizontal","columns":5,"symbolType":"M-1,0H4","symbolSize":484,"symbolStrokeWidth":1.5,"labelFont":"Liberation Serif","labelFontSize":20,"labelColor":"black","labelOffset":37,"columnPadding":56,"rowPadding":7,"gridAlign":"all","padding":0,"offset":4,"labelLimit":0}},
"strokeDash":{"field":"name","type":"nominal",
 "scale":{"domain":["ADS-S1","ADTS-S1","MDS-S1","MDTS-S1","Consumption","ADS-S2","ADTS-S2","MDS-S2","MDTS-S2"],"range":[[1,0],[1,0],[1,0],[1,0],[1,0],[4,2],[4,2],[4,2],[4,2]]},
 "legend":{"title":null,"orient":"top","direction":"horizontal","columns":5,"symbolType":"M-1,0H4","symbolSize":484,"symbolStrokeWidth":1.5,"labelFont":"Liberation Serif","labelFontSize":20,"labelColor":"black","labelOffset":37,"columnPadding":56,"rowPadding":7,"gridAlign":"all","padding":0,"offset":4,"labelLimit":0}}
},
"config":{"view":{"stroke":null},"font":"Liberation Serif"}
}
